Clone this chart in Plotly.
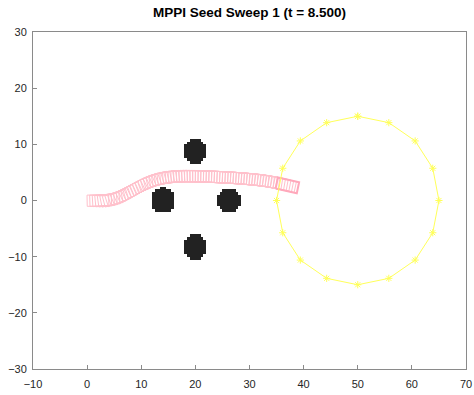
import numpy as np
import plotly.graph_objects as go

TITLE = "MPPI Seed Sweep 1 (t = 8.500)"

# Vehicle trajectory (rectangle centres, metres)
path_x = [2.0, 2.5, 3.0, 3.5, 4.0, 4.5, 5.0, 5.5, 6.0, 6.5, 7.0, 7.5, 8.0, 8.5,
          9.0, 9.5, 10.0, 10.5, 11.0, 11.5, 12.0, 12.5, 13.0, 13.5, 14.0, 14.5,
          15.0, 15.5, 16.0, 16.5, 17.0, 17.5, 18.0, 18.5, 19.0, 19.5, 20.0,
          20.5, 21.0, 21.5, 22.0, 22.5, 23.0, 23.5, 24.0, 24.5, 25.0, 25.5,
          26.0, 26.5, 27.0, 27.5, 28.0, 28.5, 29.0, 29.5, 30.0, 30.5, 31.0,
          31.5, 32.0, 32.5, 33.0, 33.5, 34.0, 34.5, 35.0, 35.5, 36.0, 36.5, 37.0]
path_y = [0.00, 0.01, 0.03, 0.07, 0.13, 0.22, 0.34, 0.50, 0.68, 0.89, 1.12, 1.36,
          1.61, 1.86, 2.11, 2.36, 2.60, 2.83, 3.04, 3.24, 3.42, 3.58, 3.72, 3.84,
          3.94, 4.03, 4.10, 4.16, 4.21, 4.25, 4.28, 4.30, 4.31, 4.32, 4.32, 4.32,
          4.31, 4.30, 4.29, 4.28, 4.26, 4.24, 4.22, 4.20, 4.18, 4.16, 4.13, 4.11,
          4.08, 4.05, 4.02, 3.99, 3.96, 3.92, 3.88, 3.84, 3.80, 3.75, 3.70, 3.65,
          3.59, 3.53, 3.46, 3.38, 3.30, 3.21, 3.12, 3.02, 2.92, 2.81, 2.70]
VEH_LEN, VEH_WID = 4.0, 2.0

# Circular obstacles
obs_x = [20.0, 14.0, 26.3, 20.0]
obs_y = [8.7, 0.1, 0.0, -8.2]
obs_r = [2.25, 2.25, 2.25, 2.25]
GRID_RES = 0.5

# Reference circle waypoints
circ_cx, circ_cy, circ_r = 50.0, 0.0, 15.0
circ_angles_deg = [90, 67.5, 45, 22.5, 0, -22.5, -45, -67.5, -90,
                   -112.5, -135, -157.5, 180, 157.5, 135, 112.5, 90]


def rect_outline(cx, cy, th, L, W):
    c, s = np.cos(th), np.sin(th)
    local = [(-L / 2, -W / 2), (L / 2, -W / 2), (L / 2, W / 2), (-L / 2, W / 2), (-L / 2, -W / 2)]
    xs = [cx + u * c - v * s for u, v in local]
    ys = [cy + u * s + v * c for u, v in local]
    return xs, ys


px = np.array(path_x)
py = np.array(path_y)
heading = np.arctan2(np.gradient(py), np.gradient(px))

trail_x, trail_y = [], []
for cx, cy, th in zip(px[:-1], py[:-1], heading[:-1]):
    xs, ys = rect_outline(cx, cy, th, VEH_LEN, VEH_WID)
    trail_x += xs + [None]
    trail_y += ys + [None]
last_x, last_y = rect_outline(px[-1], py[-1], heading[-1], VEH_LEN, VEH_WID)

# Occupancy grid for the obstacles
gx = np.arange(10.0, 30.0, GRID_RES) + GRID_RES / 2
gy = np.arange(-12.0, 12.0, GRID_RES) + GRID_RES / 2
GX, GY = np.meshgrid(gx, gy)
occ = np.zeros_like(GX, dtype=bool)
for ox, oy, r in zip(obs_x, obs_y, obs_r):
    occ |= (GX - ox) ** 2 + (GY - oy) ** 2 <= r ** 2
z = np.where(occ, 1.0, np.nan)

ang = np.radians(circ_angles_deg)
cxs = circ_cx + circ_r * np.cos(ang)
cys = circ_cy + circ_r * np.sin(ang)

fig = go.Figure()
fig.add_trace(go.Heatmap(x=gx, y=gy, z=z, zsmooth=False, showscale=False,
                         colorscale=[[0, "#222222"], [1, "#222222"]],
                         hoverinfo="skip"))
fig.add_trace(go.Scatter(x=trail_x, y=trail_y, mode="lines",
                         line=dict(color="#ffc0cb", width=1), hoverinfo="skip"))
fig.add_trace(go.Scatter(x=last_x, y=last_y, mode="lines",
                         line=dict(color="#ffa8bb", width=2), hoverinfo="skip"))
fig.add_trace(go.Scatter(x=cxs, y=cys, mode="lines+markers",
                         line=dict(color="#ffff5a", width=1),
                         marker=dict(symbol="asterisk-open", size=6,
                                     line=dict(color="#f2f200", width=1)),
                         hoverinfo="skip"))

axis_common = dict(showgrid=False, zeroline=False, showline=True, mirror=True,
                   automargin=False,
                   linecolor="#8a8a8a", linewidth=1, ticks="inside", ticklen=4,
                   tickcolor="#8a8a8a", tickfont=dict(family="Liberation Sans", size=11,
                                                      color="#262626"))
fig.update_layout(
    width=474, height=395,
    margin=dict(l=33, r=8, t=32, b=26),
    paper_bgcolor="white", plot_bgcolor="white",
    showlegend=False,
    title=dict(text="<b>" + TITLE + "</b>", x=(33 + 466) / 2 / 474, xanchor="center",
               y=1 - 12 / 395, yanchor="middle",
               font=dict(family="Liberation Sans", size=13.5, color="#000000")),
    xaxis=dict(range=[-10, 70], dtick=10, ticklabelstandoff=5, **axis_common),
    yaxis=dict(range=[-30, 30], dtick=10, ticklabelstandoff=3, **axis_common),
)

fig.write_html("out.html")
